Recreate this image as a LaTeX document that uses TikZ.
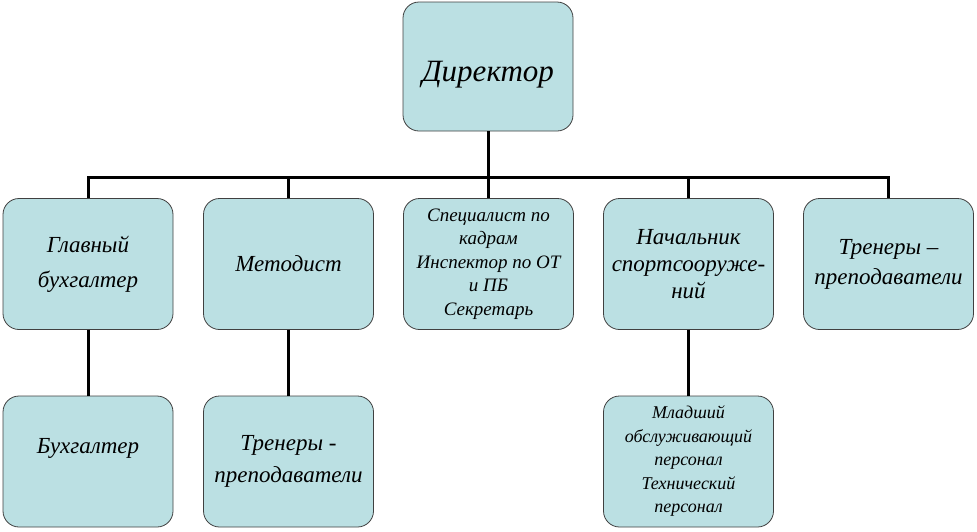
\documentclass[tikz,border=0pt]{standalone}
\usepackage{fontspec}
\setmainfont{Liberation Serif}
\definecolor{boxfill}{HTML}{BBE0E3}
\definecolor{boxline}{HTML}{404040}
\begin{document}
\begin{tikzpicture}[x=1pt,y=-1pt,
  orgbox/.style={draw=boxline, line width=0.8pt, fill=boxfill, rounded corners=16pt,
    minimum width=170pt, minimum height=131pt, align=center, inner sep=1pt,
    font=\itshape\fontsize{23}{30}\selectfont},
  bigtext/.style={font=\itshape\fontsize{23}{#1}\selectfont},
  smalltext/.style={font=\itshape\fontsize{#1}{23.5}\selectfont},
  conn/.style={line width=3pt}]
\useasboundingbox (0,0) rectangle (977,531);
\node[orgbox, font=\itshape\fontsize{31}{36}\selectfont, minimum height=129pt] (dir) at (488,66.5) {\raisebox{-15pt}[0pt][0pt]{Директор}};
\node[orgbox, bigtext=35] (gb) at (88,264) {Главный\\бухгалтер};
\node[orgbox] (met) at (288.5,264) {Методист};
\node[orgbox, smalltext=19] (spec) at (488.5,264) {Специалист по\\кадрам\\Инспектор по ОТ\\и ПБ\\Секретарь};
\node[orgbox, bigtext=27] (nach) at (688.5,264) {Начальник\\спортсооруже-\\ний};
\node[orgbox, bigtext=30] (tr1) at (888.5,264) {Тренеры –\\преподаватели};
\node[orgbox, bigtext=32] (buh) at (88,461.5) {Бухгалтер\\\mbox{}};
\node[orgbox, bigtext=32] (tr2) at (288.5,461.5) {Тренеры -\\преподаватели};
\node[orgbox, smalltext=18] (ml) at (688.5,461.5) {Младший\\обслуживающий\\персонал\\Технический\\персонал};
\coordinate (bus) at (488,177);
\draw[conn] (dir.south) -- (bus);
\draw[conn] (gb.north) |- (bus) -| (tr1.north);
\draw[conn] (met.north) -- (met.north |- bus);
\draw[conn] (spec.north) -- (spec.north |- bus);
\draw[conn] (nach.north) -- (nach.north |- bus);
\draw[conn] (gb.south) -- (buh.north);
\draw[conn] (met.south) -- (tr2.north);
\draw[conn] (nach.south) -- (ml.north);
\end{tikzpicture}
\end{document}
